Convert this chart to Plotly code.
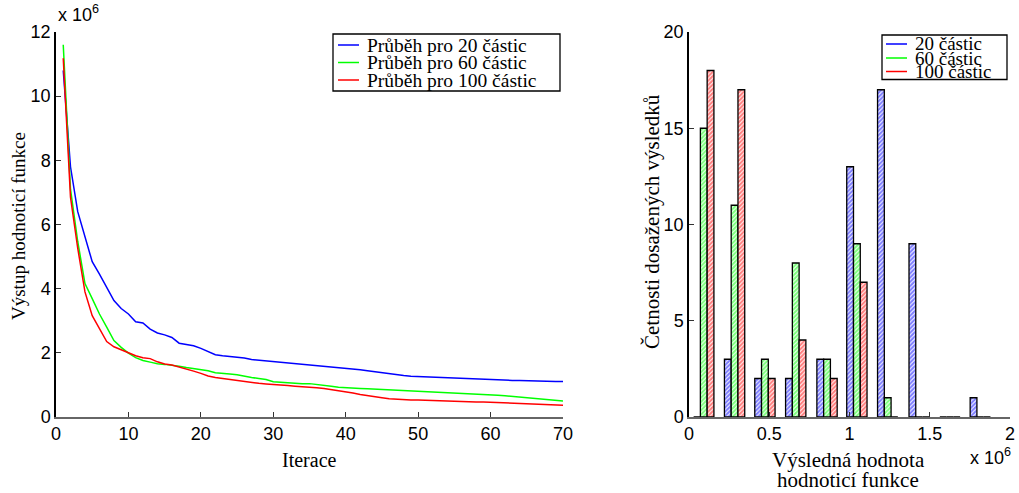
import plotly.graph_objects as go

W, H = 1019, 493

# ---------------- data ----------------
iterations = list(range(1, 71))
beh_20 = [10.8, 7.8, 6.4, 5.65, 4.84, 4.45, 4.05, 3.63, 3.38, 3.21,
          2.97, 2.93, 2.74, 2.62, 2.56, 2.48, 2.30, 2.26, 2.22, 2.14,
          2.05, 1.94, 1.91, 1.89, 1.87, 1.84, 1.79, 1.77, 1.74, 1.72,
          1.70, 1.68, 1.66, 1.63, 1.61, 1.59, 1.57, 1.55, 1.53, 1.52,
          1.50, 1.47, 1.44, 1.41, 1.37, 1.33, 1.31, 1.29, 1.27, 1.26,
          1.25, 1.24, 1.23, 1.22, 1.21, 1.20, 1.19, 1.18, 1.17, 1.16,
          1.15, 1.15, 1.14, 1.14, 1.13, 1.13, 1.12, 1.12, 1.11, 1.11]
beh_60 = [11.6, 7.1, 5.47, 4.16, 3.69, 3.21, 2.80, 2.38, 2.17, 1.99,
          1.85, 1.76, 1.71, 1.66, 1.64, 1.62, 1.58, 1.54, 1.51, 1.49,
          1.44, 1.38, 1.35, 1.34, 1.32, 1.27, 1.23, 1.20, 1.17, 1.10,
          1.08, 1.06, 1.05, 1.04, 1.04, 1.02, 0.99, 0.96, 0.93, 0.91,
          0.90, 0.89, 0.88, 0.87, 0.86, 0.85, 0.84, 0.83, 0.82, 0.81,
          0.79, 0.78, 0.77, 0.76, 0.75, 0.74, 0.72, 0.72, 0.70, 0.69,
          0.68, 0.66, 0.64, 0.62, 0.61, 0.59, 0.57, 0.55, 0.52, 0.50]
beh_100 = [11.18, 6.85, 5.26, 3.90, 3.16, 2.74, 2.35, 2.19, 2.09, 1.99,
           1.91, 1.85, 1.82, 1.72, 1.65, 1.62, 1.56, 1.51, 1.43, 1.36,
           1.28, 1.23, 1.20, 1.17, 1.13, 1.09, 1.07, 1.05, 1.03, 1.02,
           1.00, 0.98, 0.96, 0.95, 0.93, 0.91, 0.89, 0.86, 0.83, 0.79,
           0.75, 0.70, 0.66, 0.63, 0.60, 0.57, 0.55, 0.54, 0.53, 0.53,
           0.52, 0.52, 0.51, 0.51, 0.50, 0.49, 0.48, 0.47, 0.47, 0.46,
           0.45, 0.44, 0.43, 0.42, 0.41, 0.40, 0.39, 0.38, 0.38, 0.37]

bin_centers = [0.092, 0.284, 0.473, 0.665, 0.860, 1.046, 1.238, 1.434, 1.626, 1.815]
hist_20 = [0, 3, 2, 2, 3, 13, 17, 9, 0, 1]
hist_60 = [15, 11, 3, 8, 3, 9, 1, 0, 0, 0]
hist_100 = [18, 17, 2, 4, 2, 7, 0, 0, 0, 0]

line_names = ["Průběh pro 20 částic", "Průběh pro 60 částic", "Průběh pro 100 částic"]
hist_names = ["20 částic", "60 částic", "100 částic"]
colors = ["#0000ff", "#00ff00", "#ff0000"]

x_ticks_left = [0, 10, 20, 30, 40, 50, 60, 70]
y_ticks_left = [0, 2, 4, 6, 8, 10, 12]
x_ticks_right = [0, 0.5, 1, 1.5, 2]
y_ticks_right = [0, 5, 10, 15, 20]

# ---------------- layout helpers ----------------
def px_x(p):
    return p / W

def px_y(p):
    return 1 - p / H

SERIF = "Liberation Serif"
SANS = "Liberation Sans"

fig = go.Figure()

for ys, nm, c in zip([beh_20, beh_60, beh_100], line_names, colors):
    fig.add_trace(go.Scatter(x=iterations, y=ys, mode="lines", name=nm,
                             line=dict(color=c, width=1.5), showlegend=False,
                             xaxis="x", yaxis="y"))

for ys, nm, c in zip([hist_20, hist_60, hist_100], hist_names, colors):
    fig.add_trace(go.Bar(x=bin_centers, y=ys, name=nm, showlegend=False,
                         marker=dict(color="white",
                                     line=dict(color="black", width=1.3),
                                     pattern=dict(shape="/", fgcolor=c, bgcolor="white",
                                                  size=3, solidity=0.7)),
                         xaxis="x2", yaxis="y2"))

ydom = [px_y(417), px_y(32)]
axis_common = dict(showgrid=False, zeroline=False, ticks="inside", ticklen=5,
                   tickcolor="#333", tickfont=dict(family=SANS, size=18, color="black"),
                   showline=True, mirror=False, automargin=False)

shapes = []
annotations = []


def add_legend(box, line_x, text_x, rows, names, size):
    x0, x1, y0, y1 = box
    shapes.append(dict(type="rect", xref="paper", yref="paper",
                       x0=px_x(x0), x1=px_x(x1), y0=px_y(y1), y1=px_y(y0),
                       line=dict(color="black", width=1.3), fillcolor="white", layer="above"))
    for r, nm, c in zip(rows, names, colors):
        shapes.append(dict(type="line", xref="paper", yref="paper",
                           x0=px_x(line_x[0]), x1=px_x(line_x[1]), y0=px_y(r), y1=px_y(r),
                           line=dict(color=c, width=1.5), layer="above"))
        annotations.append(dict(text=nm, x=px_x(text_x), y=px_y(r), xref="paper", yref="paper",
                                xanchor="left", yanchor="middle", showarrow=False,
                                font=dict(family=SERIF, size=size, color="black")))


add_legend((333, 560, 34, 91), (338, 359), 365, (45, 62.5, 80), line_names, 19.5)
add_legend((882, 1007, 35, 79.5), (886, 907), 913, (44, 58, 71.5), hist_names, 19)

annotations += [
    dict(text="x 10<sup>6</sup>", x=px_x(56), y=px_y(27), xref="paper", yref="paper",
         xanchor="left", yanchor="bottom", showarrow=False,
         font=dict(family=SANS, size=18, color="black")),
    dict(text="x 10<sup>6</sup>", x=px_x(1013), y=px_y(470), xref="paper", yref="paper",
         xanchor="right", yanchor="bottom", showarrow=False,
         font=dict(family=SANS, size=18, color="black")),
    dict(text="Iterace", x=px_x(309), y=px_y(460), xref="paper", yref="paper",
         xanchor="center", yanchor="middle", showarrow=False,
         font=dict(family=SERIF, size=20, color="black")),
    dict(text="Výstup hodnoticí funkce", x=px_x(18), y=px_y(226), xref="paper", yref="paper",
         xanchor="center", yanchor="middle", showarrow=False, textangle=-90,
         font=dict(family=SERIF, size=19, color="black")),
    dict(text="Četnosti dosažených výsledků", x=px_x(652), y=px_y(222), xref="paper", yref="paper",
         xanchor="center", yanchor="middle", showarrow=False, textangle=-90,
         font=dict(family=SERIF, size=21, color="black")),
    dict(text="Výsledná hodnota", x=px_x(848), y=px_y(460), xref="paper", yref="paper",
         xanchor="center", yanchor="middle", showarrow=False,
         font=dict(family=SERIF, size=21, color="black")),
    dict(text="hodnoticí funkce", x=px_x(848), y=px_y(480), xref="paper", yref="paper",
         xanchor="center", yanchor="middle", showarrow=False,
         font=dict(family=SERIF, size=21, color="black")),
]

fig.update_layout(
    width=W, height=H,
    margin=dict(l=0, r=0, t=0, b=0),
    font=dict(family=SERIF, size=15, color="black"),
    paper_bgcolor="white", plot_bgcolor="white",
    showlegend=False,
    barmode="group", bargap=0.32, bargroupgap=0,
    xaxis=dict(domain=[px_x(56), px_x(563)], range=[0, 70], tickvals=x_ticks_left,
               linecolor="#666", linewidth=1.5, anchor="y", **axis_common),
    yaxis=dict(domain=ydom, range=[0, 12], tickvals=y_ticks_left,
               linecolor="black", linewidth=1.5, anchor="x", **axis_common),
    xaxis2=dict(domain=[px_x(689), px_x(1010)], range=[0, 2], tickvals=x_ticks_right,
                ticktext=["0", "0.5", "1", "1.5", "2"],
                linecolor="#666", linewidth=1.5, anchor="y2", **axis_common),
    yaxis2=dict(domain=ydom, range=[0, 20], tickvals=y_ticks_right,
                linecolor="black", linewidth=1.5, anchor="x2", **axis_common),
    shapes=shapes,
    annotations=annotations,
)

fig.write_html("out.html")
